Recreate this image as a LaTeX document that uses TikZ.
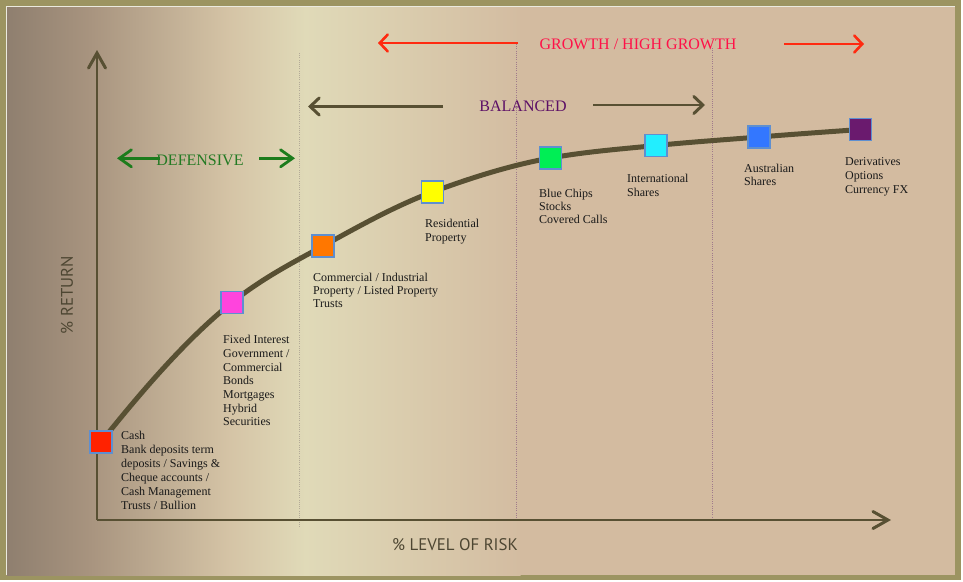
\documentclass[tikz,border=0pt]{standalone}
\usepackage{fontspec}
\setmainfont{Liberation Serif}
\newfontfamily\axisfont{PT Sans}
\usetikzlibrary{arrows.meta}
\definecolor{frameol}{HTML}{9C9461}
\definecolor{curvecol}{HTML}{585033}
\definecolor{bgA}{HTML}{8F7F6F}
\definecolor{bgB}{HTML}{A8947F}
\definecolor{bgC}{HTML}{D5C4A6}
\definecolor{bgD}{HTML}{E0DAB8}
\definecolor{bgE}{HTML}{D3BCA1}
\definecolor{bgF}{HTML}{D3BBA0}
\definecolor{boxedge}{HTML}{5E8FD0}
\definecolor{cRed}{HTML}{FF2200}
\definecolor{cMag}{HTML}{FF44DD}
\definecolor{cOra}{HTML}{FF7700}
\definecolor{cYel}{HTML}{FFFF00}
\definecolor{cGre}{HTML}{00EE55}
\definecolor{cCya}{HTML}{22EEFF}
\definecolor{cBlu}{HTML}{3377FF}
\definecolor{cPur}{HTML}{6A1A6E}
\definecolor{growthtext}{HTML}{FF1148}
\definecolor{growtharrow}{HTML}{FF2A10}
\definecolor{baltext}{HTML}{5C0F66}
\definecolor{deftext}{HTML}{237A23}
\definecolor{defarrow}{HTML}{1C7C1C}
\definecolor{axistext}{HTML}{4D4632}
\definecolor{dotgrey}{HTML}{B3AA98}
\definecolor{dotpink}{HTML}{A07A8C}
\tikzset{
  assetbox/.style={draw=boxedge, line width=1.3pt, minimum size=22pt, inner sep=0pt},
  assetlabel/.style={anchor=north west, inner sep=0pt, align=left, text=black!90,
    font=\fontsize{12}{13.7}\selectfont},
  headtext/.style={anchor=base, inner sep=0pt, font=\fontsize{16}{19}\selectfont},
  headarrow/.style={line width=2.6pt, -{Straight Barb[length=8pt,width=17pt,line width=2.6pt,line cap=round]}},
  axisline/.style={curvecol, line width=2.3pt, -{Straight Barb[length=15pt,width=17pt,line width=3pt,line cap=round]}},
  axislabel/.style={inner sep=0pt, text=axistext, font=\axisfont\fontsize{16.8}{19}\selectfont},
  divider/.style={line width=0.8pt, dash pattern=on 0.8pt off 1.4pt},
}
\begin{document}
\begin{tikzpicture}[x=1pt,y=-1pt]
\useasboundingbox (0,0) rectangle (963,581);
% frame and background
\fill[frameol] (0,0) rectangle (961,580);
\shade[left color=bgA, right color=bgB] (7,7) rectangle (90.5,575);
\shade[left color=bgB, right color=bgC] (90,7) rectangle (230.5,575);
\shade[left color=bgC, right color=bgD] (230,7) rectangle (305.5,575);
\shade[left color=bgD, right color=bgE] (305,7) rectangle (520.5,575);
\fill[bgF] (520,7) rectangle (955,575);
\draw[white!80!frameol, line width=1pt] (6.5,575) -- (6.5,6.5) -- (955,6.5);
% dividers
\coordinate (d1t) at (299,53);  \coordinate (d1b) at (299,527);
\coordinate (d2t) at (516,44);  \coordinate (d2b) at (516,520);
\coordinate (d3t) at (712,48);  \coordinate (d3b) at (712,520);
\draw[divider, dotgrey] (d1t) -- (d1b);
\draw[divider, dotpink] (d2t) -- (d2b);
\draw[divider, dotpink] (d3t) -- (d3b);
% axes
\coordinate (O) at (97,520);
\coordinate (ytip) at (97,50);
\coordinate (xtip) at (891,520);
\draw[axisline] (O) -- (ytip);
\draw[axisline, line width=2.6pt] (O) -- (xtip);
\node[axislabel, rotate=90] (ret) at (67,295) {\% RETURN};
\node[axislabel] (risk) at (455,545) {\% LEVEL OF RISK};
% curve points
\coordinate (p1) at (101,442);
\coordinate (p2) at (232,302.5);
\coordinate (p3) at (323,246);
\coordinate (p4) at (432.5,192);
\coordinate (p5) at (550.5,158);
\coordinate (p6) at (656,145.5);
\coordinate (p7) at (759,137);
\coordinate (p8) at (860.5,129.5);
\draw[curvecol, line width=5pt, line cap=round]
  (p1) .. controls (144.67,387.4) and (188.33,337.4) .. (p2)
       .. controls (262.33,278.2) and (292.67,262.7) .. (p3)
       .. controls (359.5,225.9) and (396,205.5) .. (p4)
       .. controls (471.83,177.45) and (511.17,165.08) .. (p5)
       .. controls (585.67,151.67) and (620.83,149.02) .. (p6)
       .. controls (690.33,142.07) and (724.67,139.75) .. (p7)
       .. controls (792.83,134.29) and (826.67,131.87) .. (p8);
% boxes
\node[assetbox, fill=cRed] (cash) at (p1) {};
\node[assetbox, fill=cMag] (fixed) at (p2) {};
\node[assetbox, fill=cOra] (comm) at (p3) {};
\node[assetbox, fill=cYel] (resi) at (p4) {};
\node[assetbox, fill=cGre] (blue) at (p5) {};
\node[assetbox, fill=cCya] (intl) at (p6) {};
\node[assetbox, fill=cBlu] (aus) at (p7) {};
\node[assetbox, fill=cPur] (deriv) at (p8) {};
% labels
\node[assetlabel, font=\fontsize{12}{14}\selectfont] (cashL) at (121,431.3) {Cash\\Bank deposits term\\deposits / Savings \&\\Cheque accounts /\\Cash Management\\Trusts / Bullion};
\node[assetlabel] (fixedL) at (223,335.1) {Fixed Interest\\Government /\\Commercial\\Bonds\\Mortgages\\Hybrid\\Securities};
\node[assetlabel, font=\fontsize{12}{13.2}\selectfont] (commL) at (313,272.8) {Commercial / Industrial\\Property / Listed Property\\Trusts};
\node[assetlabel] (resiL) at (425,219.1) {Residential\\Property};
\node[assetlabel, font=\fontsize{12}{13.3}\selectfont] (blueL) at (539,188.5) {Blue Chips\\Stocks\\Covered Calls};
\node[assetlabel, font=\fontsize{12}{14}\selectfont] (intlL) at (627,173.5) {International\\Shares};
\node[assetlabel] (ausL) at (744,163.5) {Australian\\Shares};
\node[assetlabel] (derivL) at (845,157.5) {Derivatives\\Options\\Currency FX};
% headers
\node[headtext, text=growthtext] (growth) at (638,49) {GROWTH / HIGH GROWTH};
\coordinate (gL0) at (518,43); \coordinate (gL1) at (378,43);
\coordinate (gR0) at (784,44); \coordinate (gR1) at (864,44);
\draw[headarrow, growtharrow] (gL0) -- (gL1);
\draw[headarrow, growtharrow] (gR0) -- (gR1);
\node[headtext, text=baltext] (bal) at (523,111) {BALANCED};
\coordinate (bL0) at (443,106.5); \coordinate (bL1) at (308,106.5);
\coordinate (bR0) at (593,105); \coordinate (bR1) at (705,105);
\draw[headarrow, curvecol, -{Straight Barb[length=9pt,width=17pt,line width=3pt,line cap=round]}] (bL0) -- (bL1);
\draw[headarrow, curvecol, -{Straight Barb[length=9pt,width=17pt,line width=3pt,line cap=round]}] (bR0) -- (bR1);
\coordinate (dL0) at (160,158.3); \coordinate (dL1) at (117,158.3);
\coordinate (dR0) at (259,158.3); \coordinate (dR1) at (295,158.3);
\draw[headarrow, defarrow, -{Straight Barb[length=12pt,width=17pt,line width=2.8pt,line cap=round]}] (dL0) -- (dL1);
\draw[headarrow, defarrow, -{Straight Barb[length=12pt,width=17pt,line width=2.8pt,line cap=round]}] (dR0) -- (dR1);
\node[headtext, text=deftext] (def) at (200,165) {DEFENSIVE};
\end{tikzpicture}
\end{document}
